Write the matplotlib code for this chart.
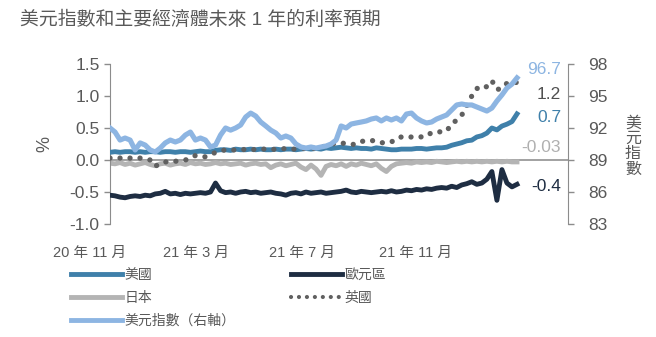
import matplotlib
matplotlib.use("Agg")
import matplotlib.pyplot as plt
import matplotlib.transforms as mtransforms
from matplotlib.lines import Line2D
from matplotlib.ticker import FormatStrFormatter

plt.rcParams['font.family'] = ['Liberation Sans', 'Noto Sans CJK TC', 'DejaVu Sans']
plt.rcParams['axes.unicode_minus'] = False

# ---------------- data ----------------
title = "美元指數和主要經濟體未來 1 年的利率預期"
x_labels = ["20 年 11 月", "21 年 3 月", "21 年 7 月", "21 年 11 月"]
series_names = ["美國", "日本", "美元指數（右軸）", "歐元區", "英國"]
end_labels = ["96.7", "1.2", "0.7", "-0.03", "-0.4"]

us = [0.12, 0.13, 0.12, 0.13, 0.13, 0.12, 0.13, 0.12, 0.13, 0.13,
      0.12, 0.13, 0.13, 0.12, 0.13, 0.13, 0.12, 0.13, 0.14, 0.13,
      0.13, 0.15, 0.16, 0.16, 0.15, 0.17, 0.16, 0.16, 0.17, 0.16,
      0.17, 0.16, 0.16, 0.17, 0.16, 0.17, 0.17, 0.16, 0.17, 0.18,
      0.17, 0.18, 0.17, 0.19, 0.18, 0.19, 0.20, 0.19, 0.18, 0.19,
      0.18, 0.18, 0.17, 0.19, 0.18, 0.17, 0.16, 0.16, 0.17, 0.17,
      0.17, 0.18, 0.18, 0.17, 0.18, 0.19, 0.19, 0.20, 0.23, 0.25,
      0.27, 0.30, 0.31, 0.36, 0.38, 0.42, 0.50, 0.47, 0.53, 0.56,
      0.60, 0.72]

japan = [-0.05, -0.06, -0.04, -0.07, -0.05, -0.08, -0.06, -0.04, -0.07, -0.09,
         -0.06, -0.05, -0.08, -0.06, -0.05, -0.07, -0.04, -0.06, -0.05, -0.07,
         -0.06, -0.04, -0.06, -0.05, -0.07, -0.06, -0.05, -0.08, -0.06, -0.05,
         -0.07, -0.06, -0.12, -0.08, -0.06, -0.09, -0.07, -0.05, -0.11, -0.15,
         -0.08, -0.14, -0.24, -0.10, -0.07, -0.09, -0.06, -0.10, -0.06, -0.08,
         -0.05, -0.07, -0.09, -0.06, -0.13, -0.18, -0.10, -0.06, -0.05, -0.04,
         -0.05, -0.03, -0.04, -0.03, -0.04, -0.02, -0.03, -0.04, -0.03, -0.02,
         -0.03, -0.02, -0.03, -0.02, -0.03, -0.02, -0.03, -0.02, -0.03, -0.02,
         -0.03, -0.03]

dxy = [92.00, 91.62, 90.87, 91.06, 90.87, 89.94, 90.60, 90.40, 89.94, 89.75,
       90.12, 90.60, 90.87, 90.69, 90.87, 91.34, 91.62, 90.87, 91.06, 90.87,
       90.22, 90.40, 91.34, 92.00, 91.80, 92.00, 92.28, 93.03, 93.40, 93.12,
       92.56, 92.19, 91.80, 91.53, 91.06, 91.25, 91.06, 90.50, 90.22, 90.12,
       90.22, 90.12, 90.22, 90.31, 90.50, 90.87, 92.19, 92.00, 92.37, 92.47,
       92.56, 92.66, 92.84, 92.94, 92.66, 92.94, 92.75, 92.94, 92.66, 93.31,
       93.40, 92.94, 92.66, 92.47, 92.56, 92.84, 93.03, 93.22, 93.69, 94.16,
       94.25, 94.16, 94.16, 93.97, 93.78, 93.59, 93.87, 94.53, 95.10, 95.75,
       96.12, 96.70]

euro = [-0.55, -0.56, -0.58, -0.59, -0.57, -0.56, -0.57, -0.55, -0.56, -0.53,
        -0.52, -0.49, -0.53, -0.52, -0.54, -0.52, -0.53, -0.52, -0.51, -0.52,
        -0.50, -0.36, -0.48, -0.51, -0.50, -0.52, -0.50, -0.49, -0.51, -0.50,
        -0.52, -0.51, -0.50, -0.52, -0.53, -0.55, -0.52, -0.51, -0.53, -0.50,
        -0.52, -0.51, -0.50, -0.52, -0.51, -0.50, -0.49, -0.47, -0.50, -0.51,
        -0.49, -0.50, -0.51, -0.50, -0.49, -0.50, -0.48, -0.50, -0.49, -0.47,
        -0.48, -0.46, -0.47, -0.45, -0.46, -0.44, -0.43, -0.44, -0.41, -0.43,
        -0.39, -0.37, -0.34, -0.38, -0.36, -0.30, -0.18, -0.63, -0.15, -0.36,
        -0.42, -0.38]

uk = [0.03, 0.04, 0.03, 0.02, 0.03, 0.02, 0.03, 0.02, 0.00, -0.10,
      -0.05, -0.03, -0.03, -0.02, -0.01, 0.00, 0.03, 0.07, 0.05, 0.05,
      0.08, 0.12, 0.14, 0.16, 0.15, 0.16, 0.17, 0.16, 0.17, 0.16,
      0.17, 0.17, 0.16, 0.17, 0.17, 0.18, 0.17, 0.17, 0.18, 0.18,
      0.17, 0.19, 0.20, 0.22, 0.24, 0.27, 0.27, 0.25, 0.24, 0.25,
      0.29, 0.30, 0.31, 0.28, 0.27, 0.27, 0.28, 0.34, 0.36, 0.35,
      0.36, 0.37, 0.36, 0.37, 0.43, 0.44, 0.44, 0.45, 0.57, 0.62,
      0.70, 0.85, 1.00, 1.12, 1.10, 1.15, 1.24, 1.10, 1.12, 1.20,
      1.22, 1.21]

# ---------------- styling ----------------
c_us = "#3f80aa"
c_jp = "#b4b4b4"
c_dxy = "#8db5e2"
c_eu = "#1e2d42"
c_uk = "#606060"
c_txt = "#595959"
c_axis = "#8c8c8c"

W, H = 656, 337
fig = plt.figure(figsize=(W / 100, H / 100), dpi=100)
ax = fig.add_axes([110 / W, 1 - 224 / H, 458 / W, 160 / H])
ax2 = ax.twinx()

n = len(us)
x = list(range(n))
xmax = (n - 1) * 458 / 407

ax.set_xlim(0, xmax)
ax.set_ylim(-1.0, 1.5)
ax2.set_ylim(83, 98)

ax.axhline(0, color="#9a9a9a", lw=1.3, zorder=1)

lw = 3.5
ax.plot(x, japan, color=c_jp, lw=lw, solid_joinstyle="round", zorder=2)
ax.plot(x, euro, color=c_eu, lw=lw, solid_joinstyle="round", zorder=3)
ax.plot(x, us, color=c_us, lw=lw, solid_joinstyle="round", zorder=4)
ax.plot(x, uk, color=c_uk, lw=3.8, linestyle=(0, (0.01, 1.9)),
        dash_capstyle="round", zorder=5)
ax2.plot(x, dxy, color=c_dxy, lw=3.7, solid_joinstyle="round", zorder=2)

# axes styling
for a in (ax, ax2):
    for s in ("top", "bottom"):
        a.spines[s].set_visible(False)
    a.tick_params(axis="x", bottom=False, labelbottom=False)
ax.spines["right"].set_visible(False)
ax2.spines["left"].set_visible(False)
ax.spines["left"].set_color(c_axis)
ax2.spines["right"].set_color(c_axis)

ax.set_yticks([-1.0, -0.5, 0.0, 0.5, 1.0, 1.5])
ax.yaxis.set_major_formatter(FormatStrFormatter('%.1f'))
ax.tick_params(axis="y", direction="out", length=4.5, width=1, color=c_axis,
               labelsize=12.5, labelcolor=c_txt, pad=3)
ax2.set_yticks([83, 86, 89, 92, 95, 98])
ax2.tick_params(axis="y", direction="out", length=4.5, width=1, color=c_axis,
                labelsize=12.5, labelcolor=c_txt, pad=10)

ax.set_ylabel("%", fontsize=13, color=c_txt, labelpad=12)

# x labels (positioned as in the original, left label sits before the axis start)
label_fracs = [-0.044, 0.188, 0.419, 0.666]
for f, t in zip(label_fracs, x_labels):
    ax.text(f, -0.181, t, transform=ax.transAxes, ha="center", va="center",
            fontsize=10.5, color=c_txt, clip_on=False)

# end labels
blend = mtransforms.blended_transform_factory(ax.transAxes, ax.transData)
end_y = [1.42, 1.02, 0.66, 0.20, -0.42]
end_c = [c_dxy, "#505050", c_us, "#b0b0b0", c_eu]
for t, yv, c in zip(end_labels, end_y, end_c):
    ax.text(0.985, yv, t, transform=blend, ha="right", va="center",
            fontsize=12.5, color=c, clip_on=False)

# right axis title (vertical stacked characters)
fig.text(633 / W, 1 - 146 / H, "\n".join("美元指數"), ha="center", va="center",
         fontsize=11.5, color=c_txt, linespacing=1.05)

# title
fig.text(20 / W, 1 - 20 / H, title, ha="left", va="center", fontsize=13.6, color=c_txt)

# legend
handles = [
    Line2D([], [], color=c_us, lw=3.5),
    Line2D([], [], color=c_jp, lw=3.5),
    Line2D([], [], color=c_dxy, lw=3.5),
    Line2D([], [], color=c_eu, lw=3.5),
    Line2D([], [], color=c_uk, lw=3.0, linestyle=(0, (0.01, 1.9)), dash_capstyle="round"),
]
leg = fig.legend(handles, series_names, loc="upper left",
                 bbox_to_anchor=(71 / W, 1 - 268 / H), ncol=2, frameon=False,
                 fontsize=10, handlelength=3.7, handletextpad=0.15,
                 columnspacing=4.0, labelspacing=0.65, borderpad=0, borderaxespad=0)
for t in leg.get_texts():
    t.set_color(c_txt)

fig.savefig("out.png", dpi=100, facecolor="white")
